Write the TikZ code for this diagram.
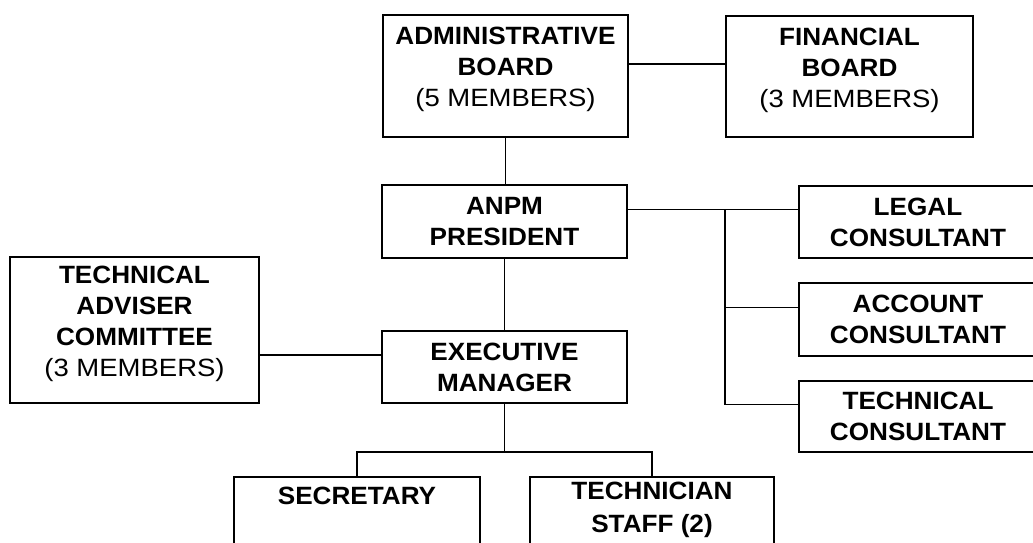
\documentclass[tikz,border=0pt]{standalone}
\usepackage{fontspec}
\setmainfont{Liberation Sans}[FakeStretch=1.045]
\newfontfamily\membersfont{Liberation Sans}[FakeStretch=1.10]
\newcommand\members[1]{{\membersfont\mdseries #1}}
\begin{document}
\begin{tikzpicture}[x=1pt,y=-1pt,
  unit/.style={draw, line width=1.9pt, rectangle, align=center, inner sep=0pt,
    font=\fontsize{25}{31}\selectfont\bfseries},
  raised/.style={text depth=18pt},
  caption/.style={align=center, inner sep=0pt, font=\fontsize{25}{33}\selectfont\bfseries},
  link/.style={line width=1.9pt}]
\useasboundingbox (0,0) rectangle (1033,542);

% boards
\node[unit, raised, minimum width=245pt, minimum height=122pt] (admin) at (505.5,76)
  {ADMINISTRATIVE\\BOARD\\\members{(5 MEMBERS)}};
\node[unit, raised, minimum width=247pt, minimum height=121pt] (fin) at (849.5,76.5)
  {FINANCIAL\\BOARD\\\members{(3 MEMBERS)}};

% management
\node[unit, minimum width=245pt, minimum height=73pt] (pres) at (504.5,221.5)
  {ANPM\\PRESIDENT};
\node[unit, minimum width=245pt, minimum height=72pt] (exec) at (504.5,367)
  {EXECUTIVE\\MANAGER};
\node[unit, raised, minimum width=249pt, minimum height=146pt] (adviser) at (134.5,330)
  {TECHNICAL\\ADVISER\\COMMITTEE\\\members{(3 MEMBERS)}};

% consultants
\node[unit, minimum width=238pt, minimum height=72pt] (legal) at (918,222)
  {LEGAL\\CONSULTANT};
\node[unit, minimum width=238pt, minimum height=73pt] (acct) at (918,319.5)
  {ACCOUNT\\CONSULTANT};
\node[unit, minimum width=238pt, minimum height=71pt] (techc) at (918,416.5)
  {TECHNICAL\\CONSULTANT};

% staff
\node[unit, anchor=north, minimum width=246pt, minimum height=100pt] (sec) at (357,476) {};
\node[caption, anchor=north] (sectext) at (357,487) {SECRETARY};
\node[unit, anchor=north, minimum width=244pt, minimum height=100pt] (staff) at (652,476) {};
\node[caption, anchor=north] (stafftext) at (652,482) {TECHNICIAN\\STAFF (2)};

% connectors
\coordinate (ab) at ([yshift=12pt]admin.east);
\draw[link] (ab) -- (ab -| fin.west);
\draw[link] (admin.south) -- (admin.south |- pres.north);
\draw[link] (pres.south) -- (pres.south |- exec.north);

\coordinate (pr) at ([yshift=12pt]pres.east);
\coordinate (bus) at (725,0);
\coordinate (ac) at ([yshift=12pt]acct.west);
\coordinate (tc) at ([yshift=12pt]techc.west);
\draw[link] (pr) -- (pr -| legal.west);
\draw[link] (pr -| bus) -- (tc -| bus) -- (tc);
\draw[link] (ac -| bus) -- (ac);

\coordinate (ex) at ([yshift=12pt]exec.west);
\draw[link] (ex) -- (ex -| adviser.east);

\coordinate (fork) at (505,452);
\draw[link] (exec.south) -- (exec.south |- fork);
\draw[link] (sec.north) -- (sec.north |- fork) -- (staff.north |- fork) -- (staff.north);
\end{tikzpicture}
\end{document}
